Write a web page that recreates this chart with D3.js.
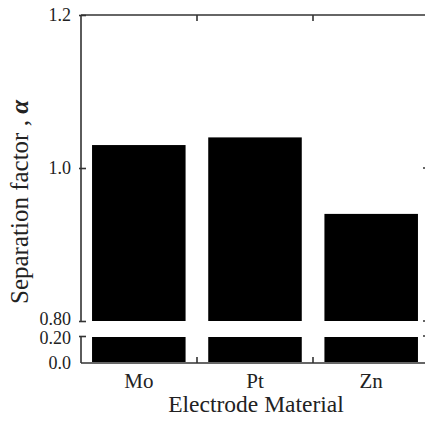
<!DOCTYPE html>
<html>
<head>
<meta charset="utf-8">
<script src="https://cdn.jsdelivr.net/npm/d3@7/dist/d3.min.js"></script>
<style>
  html, body { margin: 0; padding: 0; background: #fff; }
  svg { display: block; }
  text { font-family: "Liberation Serif", "Times New Roman", serif; fill: #222; }
</style>
</head>
<body>
<svg id="chart" width="425" height="421"></svg>
<script>
// ---- data ----
const categories = ["Mo", "Pt", "Zn"];
const separationFactor = [1.03, 1.04, 0.94];
const upperTicks = [0.8, 1.0, 1.2];
const upperTickLabels = ["0.80", "1.0", "1.2"];
const lowerTicks = [0.0, 0.2];
const lowerTickLabels = ["0.0", "0.20"];
const xTitle = "Electrode Material";
const yTitle = "Separation factor , ";

(function () {
// ---- layout ----
const svg = d3.select("#chart");
const pLeft = 81, pRight = 429, pTop = 15;
const upperBottom = 321, lowerTop = 336, lowerBottom = 363;
const axisColor = "#333";

const x = d3.scaleBand().domain(categories).range([pLeft, pRight]).paddingInner(0.195).paddingOuter(0.095);
const xB = d3.scaleBand().domain(categories).range([pLeft, pRight]);
const yU = d3.scaleLinear().domain([0.8, 1.2]).range([upperBottom, pTop]);
const yL = d3.scaleLinear().domain([0, 0.2]).range([lowerBottom, lowerTop]);

const data = categories.map((c, i) => ({ c, v: separationFactor[i] }));

// upper bars
svg.append("g").selectAll("rect").data(data).join("rect")
  .attr("x", d => x(d.c)).attr("width", x.bandwidth())
  .attr("y", d => yU(Math.min(d.v, 1.2)))
  .attr("height", d => yU(0.8) - yU(Math.min(d.v, 1.2)))
  .attr("fill", "#000");

// lower bars
svg.append("g").selectAll("rect").data(data).join("rect")
  .attr("x", d => x(d.c)).attr("width", x.bandwidth())
  .attr("y", d => yL(Math.min(d.v, 0.2)) + 1)
  .attr("height", d => yL(0) - yL(Math.min(d.v, 0.2)) - 2)
  .attr("fill", "#000");

// left axis - upper
const gU = svg.append("g").attr("transform", `translate(${pLeft},0)`)
  .call(d3.axisLeft(yU).tickValues(upperTicks).tickFormat((d, i) => upperTickLabels[i]).tickSize(-5).tickPadding(10));
gU.select(".domain").remove();
gU.append("line").attr("x1", 0).attr("x2", 0).attr("y1", pTop).attr("y2", upperBottom);
gU.selectAll(".tick line").attr("x1", -2);

// left axis - lower
const gL = svg.append("g").attr("transform", `translate(${pLeft},0)`)
  .call(d3.axisLeft(yL).tickValues(lowerTicks).tickFormat((d, i) => lowerTickLabels[i]).tickSize(-5).tickPadding(10));
gL.select(".domain").remove();
gL.append("line").attr("x1", 0).attr("x2", 0).attr("y1", lowerTop).attr("y2", lowerBottom);
gL.selectAll(".tick line").attr("x1", -2);
gL.selectAll(".tick").filter(d => d === 0).select("line").remove();

[gU, gL].forEach(g => {
  g.selectAll("line").attr("stroke", axisColor).attr("stroke-width", 1.6);
  g.selectAll("text").attr("font-size", 18).attr("fill", "#222")
    .style("font-family", '"Liberation Serif", "Times New Roman", serif');
});
gU.selectAll(".tick").filter(d => d === 0.8).select("text").attr("dy", "0.22em");
gL.selectAll(".tick").filter(d => d === 0.2).select("text").attr("dy", "0.40em");

// right axis (mostly off-canvas)
const gR = svg.append("g");
gR.append("line").attr("x1", pRight).attr("x2", pRight).attr("y1", pTop).attr("y2", upperBottom);
gR.append("line").attr("x1", pRight).attr("x2", pRight).attr("y1", lowerTop).attr("y2", lowerBottom);
gR.selectAll("line.t").data([yU(1.0), yU(0.8), yL(0.2)]).join("line")
  .attr("x1", pRight - 6).attr("x2", pRight).attr("y1", d => d).attr("y2", d => d);
gR.selectAll("line").attr("stroke", axisColor).attr("stroke-width", 1.6);

// top line and ticks
const gT = svg.append("g").attr("transform", `translate(0,${pTop})`)
  .call(d3.axisTop(xB).tickValues(categories.slice(1)).tickSize(-6).tickFormat(""));
gT.select(".domain").remove();
gT.selectAll(".tick").attr("transform", d => `translate(${xB(d)},0)`);
gT.append("line").attr("x1", pLeft).attr("x2", pRight).attr("y1", 0).attr("y2", 0);
gT.selectAll("line").attr("stroke", axisColor).attr("stroke-width", 1.6);

// bottom line and ticks
const gBt = svg.append("g").attr("transform", `translate(0,${lowerBottom})`)
  .call(d3.axisBottom(xB).tickValues(categories.slice(1)).tickSize(-6).tickFormat(""));
gBt.select(".domain").remove();
gBt.selectAll(".tick").attr("transform", d => `translate(${xB(d)},0)`);
gBt.append("line").attr("x1", pLeft).attr("x2", pRight).attr("y1", 0).attr("y2", 0);
gBt.selectAll("line").attr("stroke", axisColor).attr("stroke-width", 1.6);

// category labels
svg.append("g").selectAll("text").data(categories).join("text")
  .attr("x", d => x(d) + x.bandwidth() / 2).attr("y", 388)
  .attr("text-anchor", "middle").attr("font-size", 21).text(d => d);

// x title
svg.append("text").attr("x", (pLeft + pRight) / 2 + 1).attr("y", 412)
  .attr("text-anchor", "middle").attr("font-size", 23.5).text(xTitle);

// y title
const yt = svg.append("text").attr("transform", `translate(28,202) rotate(-90)`)
  .attr("text-anchor", "middle").attr("font-size", 25);
yt.append("tspan").text(yTitle);
yt.append("tspan").attr("font-style", "italic").attr("font-weight", "bold").text("α");
})();
</script>
</body>
</html>
